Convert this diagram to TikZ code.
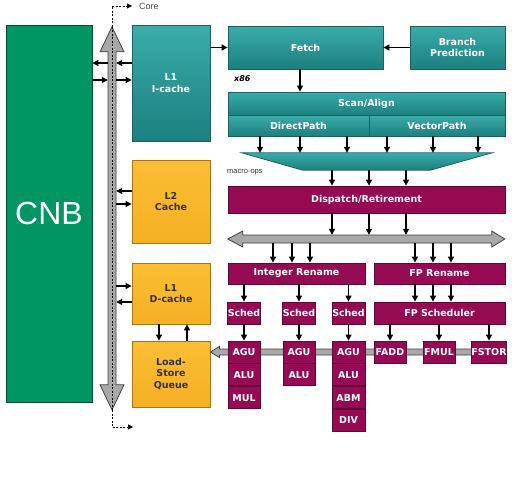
\documentclass[tikz,border=0pt]{standalone}
\usepackage{fontspec}
\setmainfont{DejaVu Sans}
\newfontfamily\cnbfont{Liberation Sans}
\usetikzlibrary{positioning}
\usetikzlibrary{arrows.meta}
\definecolor{tealt}{RGB}{58,172,170}
\definecolor{tealf}{RGB}{40,152,150}
\definecolor{tealb}{RGB}{28,128,126}
\definecolor{teald}{RGB}{24,98,98}
\definecolor{magt}{RGB}{150,10,84}
\definecolor{magf}{RGB}{172,26,104}
\definecolor{magd}{RGB}{96,8,54}
\definecolor{orat}{RGB}{250,190,52}
\definecolor{oraf}{RGB}{246,176,36}
\definecolor{orad}{RGB}{168,116,20}
\definecolor{grnt}{RGB}{0,150,100}
\definecolor{grnf}{RGB}{0,128,86}
\definecolor{grnd}{RGB}{0,78,50}
\definecolor{busf}{RGB}{168,168,168}
\definecolor{busd}{RGB}{64,64,64}
\tikzset{
    boxt/.style = {rectangle, line width=0.8pt, draw=teald, top color=tealt, bottom color=tealb, inner sep=0pt, align=center, font=\fontsize{9.5}{11.5}\selectfont\bfseries, text=white},
    boxm/.style = {rectangle, line width=0.8pt, draw=magd, top color=magt, middle color=magf, bottom color=magt, inner sep=0pt, align=center, font=\fontsize{9.5}{11.5}\selectfont\bfseries, text=white},
    boxo/.style = {rectangle, line width=0.8pt, draw=orad, top color=orat, bottom color=oraf, inner sep=0pt, align=center, font=\fontsize{9.5}{11.5}\selectfont\bfseries, text=black!80},
    boxg/.style = {rectangle, line width=0.8pt, draw=grnd, top color=grnt, middle color=grnf, bottom color=grnt, inner sep=0pt, align=center, font=\cnbfont\fontsize{32}{36}\selectfont, text=white},
    unit/.style = {boxm, minimum width=32, minimum height=22},
    wh/.style 2 args = {minimum width=#1, minimum height=#2},
    edgea/.style = {-{Triangle[length=6pt,width=6pt]}, line width=1.2pt, black},
    edged/.style = {-, dash pattern=on 2pt off 1.5pt, line width=0.6pt, black}, % core path
    edgedt/.style = {edged, -{Triangle[length=5pt,width=5pt]}},
    busa/.style = {line width=0.8pt, draw=busd, fill=busf},
    lbl/.style = {inner sep=0pt, font=\cnbfont\fontsize{9}{10}\selectfont, text=black!70},
    lblx/.style = {inner sep=0pt, font=\fontsize{8}{9}\selectfont\bfseries\itshape, text=black},
}

\begin{document}
\begin{tikzpicture}[x=1pt, y=-1pt]
%
\path[use as bounding box] (0,0) rectangle (512,480);
%
\node[boxg, wh={86}{377}] at (49,213.5) (cnb) {CNB};
\node[boxt, wh={78}{116}] at (171,83) (icache) {L1\\I-cache};
\node[boxo, wh={78}{83}] at (171,201.5) (ltwo) {L2\\Cache};
\node[boxo, wh={78}{61}] at (171,293.5) (dcache) {L1\\D-cache};
\node[boxo, wh={78}{66}] at (171,374) (lsq) {Load-\\Store\\Queue};
%
\node[inner sep=0pt, wh={8}{383}] at (112,218.5) (vbus) {};
\draw[busa] (vbus.north) -- ++(12,25) -- ++(-8,0) -- ++(0,333) -- ++(8,0) -- ++(-12,25)
    -- ++(-12,-25) -- ++(8,0) -- ++(0,-333) -- ++(-8,0) -- cycle;
\node[lbl, anchor=west] at (139,6) (core) {Core};
\draw[edged] (vbus.north) -- (vbus.south);
\draw[edgedt] (vbus.north) |- ([xshift=-7]core.west);
\coordinate (coredown) at (133,427);
\draw[edgedt] (vbus.south) |- (coredown);
%
\draw[edgea] (vbus.west |- 0,63) -- (cnb.east |- 0,63);
\draw[edgea] (cnb.east |- 0,80) -- (vbus.west |- 0,80);
\draw[edgea] (icache.west |- 0,63) -- (vbus.east |- 0,63);
\draw[edgea] (vbus.east |- 0,80) -- (icache.west |- 0,80);
\draw[edgea] (ltwo.west |- 0,191) -- (vbus.east |- 0,191);
\draw[edgea] (vbus.east |- 0,204) -- (ltwo.west |- 0,204);
\draw[edgea] (vbus.east |- 0,286) -- (dcache.west |- 0,286);
\draw[edgea] (dcache.west |- 0,302) -- (vbus.east |- 0,302);
\draw[edgea] (dcache.south -| 159,0) -- (lsq.north -| 159,0);
\draw[edgea] (lsq.north -| 187,0) -- (dcache.south -| 187,0);
%
\node[boxt, wh={155}{43}] at (305.5,47.5) (fetch) {Fetch};
\node[boxt, wh={95}{43}] at (457.5,47.5) (bpred) {Branch\\Prediction};
\node[lblx, anchor=west] at (234,79) (xeightysix) {x86};
\node[boxt, wh={277}{23}] at (366.5,103.5) (scan) {Scan/Align};
\node[boxt, wh={141}{21}] at (298.5,125.5) (direct) {DirectPath};
\node[boxt, wh={136}{21}] at (437,125.5) (vector) {VectorPath};
\node[inner sep=0pt, wh={250}{17}] at (367,161.5) (mops) {};
\draw[boxt] (mops.north west) -- (mops.north east) -- ([xshift=-62]mops.south east) -- ([xshift=61]mops.south west) -- cycle;
\node[lbl, anchor=west, font=\cnbfont\fontsize{7.5}{9}\selectfont, text=black!80] at (227,172) (mopslbl) {macro-ops};
%
\draw[edgea] (icache.east |- fetch.west) -- (fetch.west);
\draw[edgea] (bpred.west) -- (fetch.east);
\draw[edgea] (fetch.south -| 300,0) -- (scan.north -| 300,0);
\foreach \x in {260,300,347,387,433,478}
    \draw[edgea] (direct.south -| \x,0) -- (mops.north -| \x,0);
%
\node[boxm, wh={277}{27}] at (366.5,199.5) (dispatch) {Dispatch/Retirement};
\node[inner sep=0pt, wh={277}{8}] at (366.5,239) (hbus) {};
\draw[busa] (hbus.west) -- ++(15,-8) -- ++(0,4) -- ++(249,0) -- ++(0,-4) -- ++(13,8)
    -- ++(-13,8) -- ++(0,-4) -- ++(-249,0) -- ++(0,4) -- cycle;
\foreach \x in {332,369,406} {
    \draw[edgea] (mops.south -| \x,0) -- (dispatch.north -| \x,0);
    \draw[edgea] (dispatch.south -| \x,0) -- (hbus.north -| \x,0);
}
%
\node[boxm, wh={137}{21}] at (296.5,273.5) (intren) {Integer Rename};
\node[boxm, wh={131}{21}] at (439.5,273.5) (fpren) {FP Rename};
\foreach \x in {273,292,310,415,433,451}
    \draw[edgea] (hbus.south -| \x,0) -- (intren.north -| \x,0);
\node[boxm, wh={32}{22}] at (244,313) (schedA) {Sched};
\node[boxm, wh={32}{22}] at (299,313) (schedB) {Sched};
\node[boxm, wh={33}{22}] at (348.5,313) (schedC) {Sched};
\node[boxm, wh={131}{22}] at (439.5,313) (fpsched) {FP Scheduler};
\foreach \s in {schedA,schedB,schedC}
    \draw[edgea] (intren.south -| \s.north) -- (\s.north);
\foreach \x in {415,433,451}
    \draw[edgea] (fpren.south -| \x,0) -- (fpsched.north -| \x,0);
%
\draw[busa] (lsq.east |- 0,352) -- ++(9,-5.5) -- ++(0,2.5) -- ++(270,0) -- ++(0,6) -- ++(-270,0) -- ++(0,2.5) -- cycle;
%
\node[unit] at (244,352) (aguA) {AGU};
\node[unit, below=0pt of aguA] (aluA) {ALU};
\node[unit, below=0pt of aluA] (mulA) {MUL};
\node[unit] at (299,352) (aguB) {AGU};
\node[unit, below=0pt of aguB] (aluB) {ALU};
\node[unit, minimum width=33] at (348.5,352) (aguC) {AGU};
\node[unit, minimum width=33, below=0pt of aguC] (aluC) {ALU};
\node[unit, minimum width=33, below=0pt of aluC] (abmC) {ABM};
\node[unit, minimum width=33, below=0pt of abmC] (divC) {DIV};
\node[unit] at (390,352) (fadd) {FADD};
\node[unit] at (439,352) (fmul) {FMUL};
\node[unit] at (489,352) (fstor) {FSTOR};
%
\draw[edgea] (schedA) edge (aguA) (schedB) edge (aguB) (schedC) edge (aguC);
\foreach \u in {fadd,fmul,fstor}
    \draw[edgea] (fpsched.south -| \u.north) -- (\u.north);

\end{tikzpicture}
\end{document}
